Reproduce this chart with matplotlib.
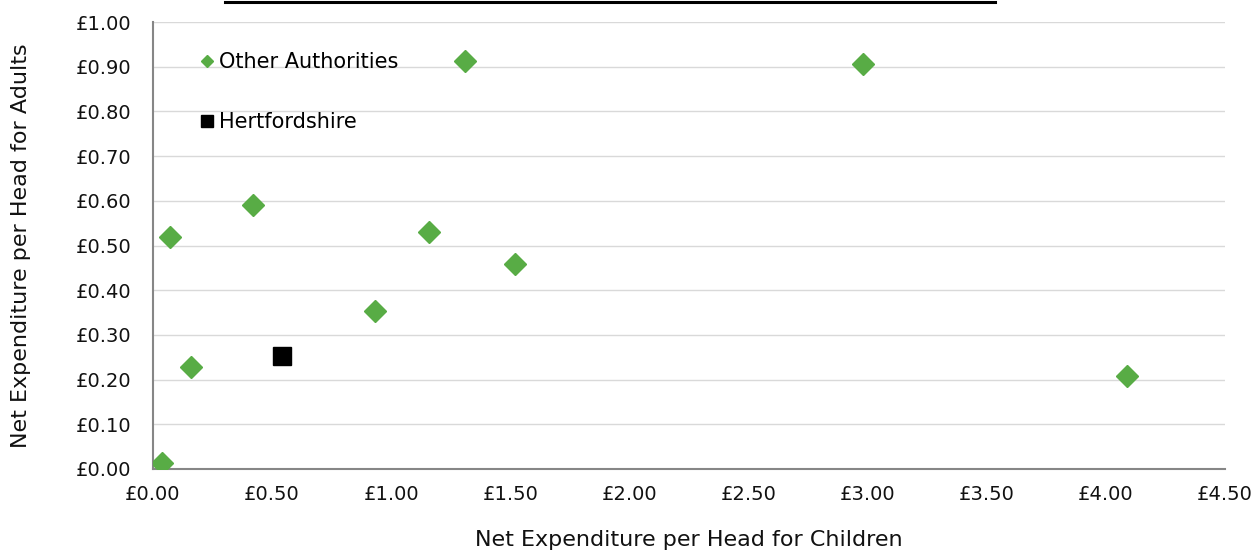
import numpy as np
import matplotlib.pyplot as plt
from matplotlib.lines import Line2D

# values
other_x = [0.04, 0.07, 0.16, 0.42, 0.93, 1.16, 1.31, 1.52, 2.98, 4.09]
other_y = [0.013, 0.518, 0.228, 0.591, 0.353, 0.531, 0.912, 0.458, 0.907, 0.208]
herts_x = [0.54]
herts_y = [0.253]

x_ticks = np.arange(0, 4.51, 0.5)
y_ticks = np.arange(0, 1.001, 0.1)
x_labels = ['£%.2f' % v for v in x_ticks]
y_labels = ['£%.2f' % v for v in y_ticks]

green = '#58AC45'

plt.rcParams['font.family'] = ['DejaVu Sans']
fig = plt.figure(figsize=(12.6, 5.53), dpi=100)
ax = fig.add_axes([0.1214, 0.1519, 0.8508, 0.8083])

ax.plot(other_x, other_y, ls='none', marker='D', ms=11, color=green,
        label='Other Authorities', zorder=3)
ax.plot(herts_x, herts_y, ls='none', marker='s', ms=13.5, color='black',
        label='Hertfordshire', zorder=4)

ax.set_xlim(0, 4.5)
ax.set_ylim(0, 1.0)
ax.set_xticks(x_ticks)
ax.set_xticklabels(x_labels)
ax.set_yticks(y_ticks)
ax.set_yticklabels(y_labels)
ax.tick_params(axis='both', length=0, labelsize=14, colors='#111111')
ax.tick_params(axis='x', pad=11.5)
ax.tick_params(axis='y', pad=15.5)

ax.grid(axis='y', color='#d9d9d9', lw=1)
ax.set_axisbelow(True)
for s in ['top', 'right']:
    ax.spines[s].set_visible(False)
for s in ['left', 'bottom']:
    ax.spines[s].set_color('#868686')
    ax.spines[s].set_linewidth(1.5)

ax.set_xlabel('Net Expenditure per Head for Children', fontsize=16, labelpad=19,
              color='#111111')
ax.set_ylabel('Net Expenditure per Head for Adults', fontsize=16, labelpad=32,
              color='#111111')

leg_handles = [
    Line2D([], [], ls='none', marker='D', ms=6.5, color=green),
    Line2D([], [], ls='none', marker='s', ms=9, color='black'),
]
ax.legend(leg_handles, ['Other Authorities', 'Hertfordshire'],
          loc='upper left', bbox_to_anchor=(0.027, 0.975), frameon=False,
          fontsize=15, handlelength=0.6, handletextpad=0.3, labelspacing=1.92)

# black bar along the top edge
fig.add_artist(Line2D([225 / 1260, 995 / 1260], [1 - 1.5 / 553, 1 - 1.5 / 553],
                      color='black', lw=2.2))

fig.savefig('out.png', dpi=100)
